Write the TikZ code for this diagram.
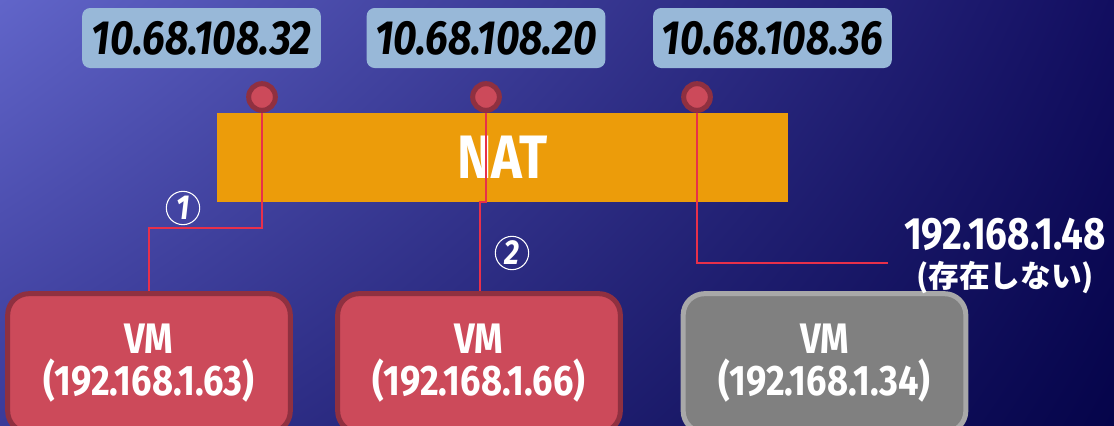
\documentclass[tikz,border=0pt]{standalone}
\usepackage{fontspec}
\setmainfont{Fira Sans}
\newfontfamily\figfont[FakeStretch=0.85]{Fira Sans}
\newfontfamily\jpfont{Noto Sans CJK JP}
\usetikzlibrary{shadings}

\definecolor{bgul}{HTML}{6165C9}
\definecolor{bgur}{HTML}{120E60}
\definecolor{bgll}{HTML}{3A3A98}
\definecolor{bglr}{HTML}{05044A}
\definecolor{ipblue}{HTML}{98B8D8}
\definecolor{natorange}{HTML}{EC9C0A}
\definecolor{vmred}{HTML}{CC4A5A}
\definecolor{vmdark}{HTML}{8F3040}
\definecolor{vmgray}{HTML}{808080}
\definecolor{vmgrayline}{HTML}{A8A8A8}
\definecolor{wirered}{HTML}{E8304A}

\tikzset{
  ipbox/.style={fill=ipblue,rounded corners=6pt,minimum width=179pt,minimum height=45pt,
    font=\figfont\fontsize{36}{38}\selectfont\bfseries\itshape,text=black},
  natbox/.style={fill=natorange,minimum width=428pt,minimum height=67pt,
    font=\figfont\fontsize{46}{48}\selectfont\bfseries,text=white},
  port/.style={circle,fill=vmred,draw=vmdark,line width=3.75pt,minimum size=20pt,inner sep=0pt},
  vmbox/.style={fill=vmred,draw=vmdark,line width=3.75pt,rounded corners=16pt,
    minimum width=212pt,minimum height=104pt,align=center,text=white,
    font=\figfont\fontsize{32}{32}\selectfont\bfseries},
  vmoff/.style={vmbox,fill=vmgray,draw=vmgrayline},
  wire/.style={draw=wirered,line width=1.5pt},
  numcirc/.style={circle,draw=white,line width=0.8pt,minimum size=25pt,inner sep=0pt,
    text=white,font=\figfont\fontsize{26}{26}\selectfont\bfseries\itshape},
  lostlabel/.style={align=center,text=white,
    font=\figfont\fontsize{34}{28}\selectfont\bfseries}
}

\begin{document}
\begin{tikzpicture}[x=0.75pt,y=-0.75pt]
\useasboundingbox (0,0) rectangle (1114,425);
\clip (0,0) rectangle (1114,425);
\shade[upper left=bgul,upper right=bgur,lower left=bgll,lower right=bglr] (0,0) rectangle (1114,425);

% public addresses
\node[ipbox] (pub1) at (201.5,38) {10.68.108.32};
\node[ipbox] (pub2) at (486,38) {10.68.108.20};
\node[ipbox] (pub3) at (772.5,38) {10.68.108.36};

\node[natbox] (nat) at (502.5,157.5) {NAT};

% ports on the NAT
\node[port] (p1) at (262,97) {};
\node[port] (p2) at (486,97) {};
\node[port] (p3) at (697,97) {};

% virtual machines
\node[vmbox] (vm1) at (149,363) {VM\\(192.168.1.63)};
\node[vmbox] (vm2) at (479,363) {VM\\(192.168.1.66)};
\node[vmoff] (vm3) at (824.5,363) {VM\\(192.168.1.34)};

\node[lostlabel] (lost) at (1005,256) {192.168.1.48\\[0pt]{\jpfont\fontsize{23}{24}\selectfont (存在しない)}};

\coordinate (j1) at (149,228);
\coordinate (j2) at (480,202);
\coordinate (e3) at (888,263);

\draw[wire] (p1.south) |- (j1) -- (j1 |- vm1.north);
\draw[wire] (p2.south) |- (j2) -- (j2 |- vm2.north);
\draw[wire] (p3.south) |- (e3);

\node[numcirc] (n1) at (183,208) {1};
\node[numcirc] (n2) at (512,253) {2};
\end{tikzpicture}
\end{document}
